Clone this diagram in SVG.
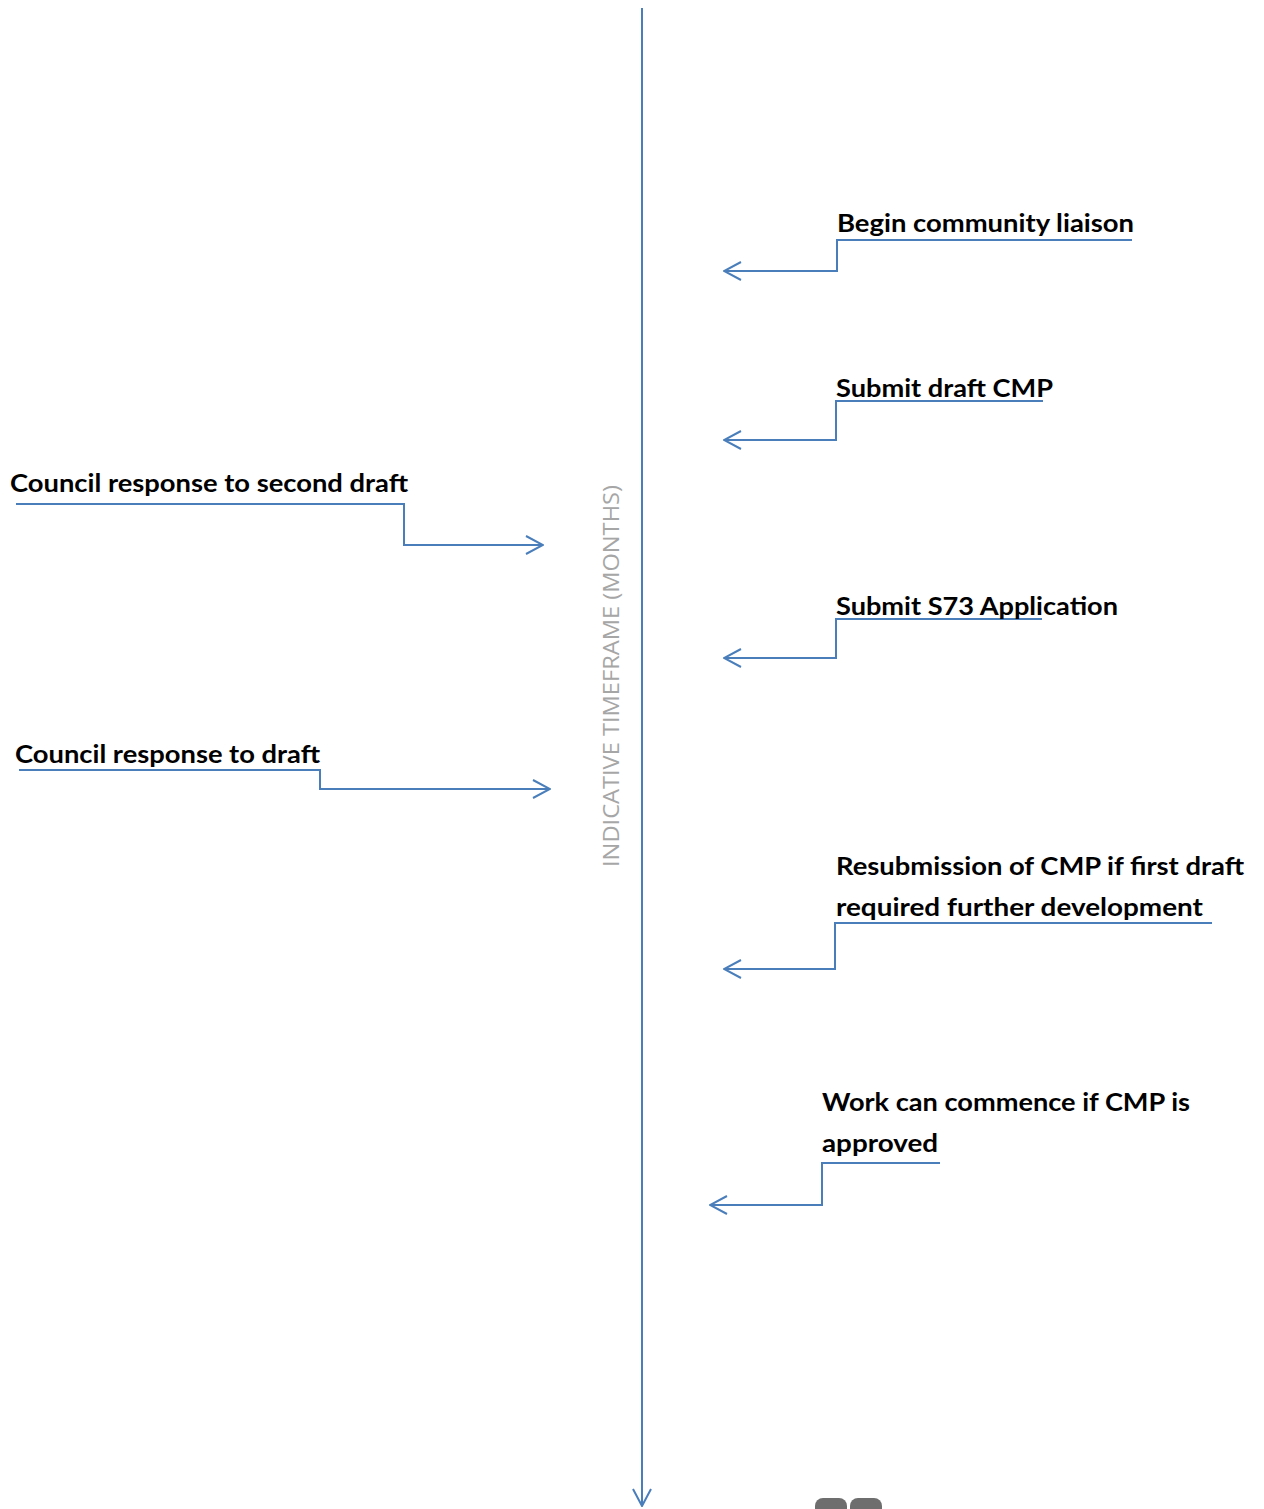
<svg xmlns="http://www.w3.org/2000/svg" width="1264" height="1509" viewBox="0 0 1264 1509">
  <style>
    .lbl { font-family: Lato, "Open Sans", "Liberation Sans", sans-serif; font-weight: bold; font-size: 24px; fill: #000; }
    .axis { font-family: "Open Sans", Lato, "Liberation Sans", sans-serif; font-size: 22px; fill: #a6a6a6; }
    .conn { fill: none; stroke: #4a7ebb; stroke-width: 2; }
  </style>
  <defs>
    <marker id="arrow" markerUnits="userSpaceOnUse" viewBox="0 0 20 20" refX="19" refY="10" markerWidth="20" markerHeight="20" orient="auto">
      <path d="M2,1 L19,10 L2,19" fill="none" stroke="#4a7ebb" stroke-width="2"/>
    </marker>
  </defs>
  <rect width="1264" height="1509" fill="#fff"/>

  <g id="axis">
    <line class="conn" x1="642" y1="8" x2="642" y2="1506" marker-end="url(#arrow)"/>
    <text class="axis" transform="translate(619,676) rotate(-90)" text-anchor="middle" textLength="382" lengthAdjust="spacingAndGlyphs">INDICATIVE TIMEFRAME (MONTHS)</text>
  </g>

  <g id="connectors">
    <polyline class="conn" points="1132,240 837,240 837,271 724,271" marker-end="url(#arrow)"/>
    <polyline class="conn" points="1043,401 836,401 836,440 724,440" marker-end="url(#arrow)"/>
    <polyline class="conn" points="16,504 404,504 404,545 543,545" marker-end="url(#arrow)"/>
    <polyline class="conn" points="1042,619 836,619 836,658 724,658" marker-end="url(#arrow)"/>
    <polyline class="conn" points="19,770 320,770 320,789 550,789" marker-end="url(#arrow)"/>
    <polyline class="conn" points="1212,923 835,923 835,969 724,969" marker-end="url(#arrow)"/>
    <polyline class="conn" points="940,1163 822,1163 822,1205 710,1205" marker-end="url(#arrow)"/>
  </g>

  <g id="node-community">
    <text class="lbl" x="837" y="232" textLength="297" lengthAdjust="spacingAndGlyphs">Begin community liaison</text>
  </g>
  <g id="node-draft">
    <text class="lbl" x="836" y="397" textLength="217" lengthAdjust="spacingAndGlyphs">Submit draft CMP</text>
  </g>
  <g id="node-second">
    <text class="lbl" x="10" y="492" textLength="398" lengthAdjust="spacingAndGlyphs">Council response to second draft</text>
  </g>
  <g id="node-s73">
    <text class="lbl" x="836" y="615" textLength="282" lengthAdjust="spacingAndGlyphs">Submit S73 Application</text>
  </g>
  <g id="node-response">
    <text class="lbl" x="15" y="763" textLength="305" lengthAdjust="spacingAndGlyphs">Council response to draft</text>
  </g>
  <g id="node-resubmission">
    <text class="lbl" x="836" y="875" textLength="408" lengthAdjust="spacingAndGlyphs">Resubmission of CMP if first draft</text>
    <text class="lbl" x="836" y="916" textLength="367" lengthAdjust="spacingAndGlyphs">required further development</text>
  </g>
  <g id="node-work">
    <text class="lbl" x="822" y="1111" textLength="368" lengthAdjust="spacingAndGlyphs">Work can commence if CMP is</text>
    <text class="lbl" x="822" y="1152" textLength="116" lengthAdjust="spacingAndGlyphs">approved</text>
  </g>

  <g id="logo-fragment">
    <rect x="815" y="1498" width="32" height="24" rx="8" fill="#6e6e6e"/>
    <rect x="850" y="1498" width="32" height="24" rx="8" fill="#6e6e6e"/>
  </g>
</svg>
